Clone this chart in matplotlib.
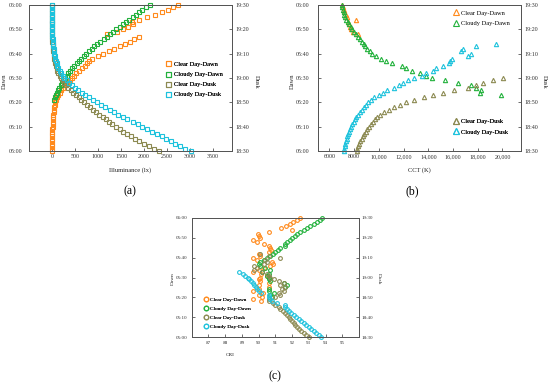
import matplotlib
matplotlib.use('Agg')
import matplotlib.pyplot as plt
from matplotlib.lines import Line2D
from matplotlib.ticker import FuncFormatter

plt.rcParams['font.family'] = ['Liberation Serif', 'DejaVu Serif']

# ---------------- shared categories ----------------
tick_minutes = [0, 10, 20, 30, 40, 50, 60]
dawn_tick_labels = ['05:00', '05:10', '05:20', '05:30', '05:40', '05:50', '06:00']
dusk_tick_labels = ['18:30', '18:40', '18:50', '19:00', '19:10', '19:20', '19:30']
series_names = ['Clear Day-Dawn', 'Cloudy Day-Dawn', 'Clear Day-Dusk', 'Cloudy Day-Dusk']
colors = ['#FF8A1C', '#22B13C', '#8C8A52', '#1DC2DC']

# ---------------- (a) Illuminance (lx), one value per minute ----------------
lux_clear_dawn_start = 0
lux_clear_dawn = [0, 2, 3, 4, 5, 6, 7, 9, 11, 13,
                  15, 18, 21, 25, 29, 34, 40, 47, 55, 65,
                  76, 90, 110, 135, 165, 200, 240, 285, 335, 385,
                  430, 480, 530, 590, 650, 710, 760, 815, 880, 990,
                  1100, 1230, 1350, 1470, 1590, 1690, 1790, 1890, 1190, 1420,
                  1540, 1660, 1750, 1740, 1900, 2060, 2240, 2380, 2510, 2630, 2730]
lux_cloudy_dawn_start = 21
lux_cloudy_dawn = [55, 70, 90, 110, 135, 160, 190, 220, 250, 285,
                   320, 360, 400, 445, 490, 540, 590, 640, 690, 745,
                   800, 860, 920, 985, 1050, 1120, 1190, 1260, 1330, 1400,
                   1470, 1540, 1610, 1680, 1750, 1820, 1890, 1960, 2040, 2130]
lux_clear_dusk_start = 0
lux_clear_dusk = [2320, 2210, 2100, 2000, 1900, 1810, 1720, 1630, 1550, 1470,
                  1390, 1310, 1240, 1170, 1100, 1030, 960, 895, 830, 765,
                  700, 640, 580, 520, 460, 405, 355, 310, 270, 230,
                  195, 165, 140, 118, 100, 85, 72, 60, 50, 42,
                  35, 29, 24, 20, 16, 13, 11, 9, 7, 6,
                  5, 4, 3, 3, 2, 2, 1, 1, 1, 0, 0]
lux_cloudy_dusk_start = 0
lux_cloudy_dusk = [3020, 2890, 2785, 2680, 2580, 2480, 2390, 2290, 2180, 2070,
                   1960, 1860, 1750, 1640, 1540, 1430, 1340, 1250, 1150, 1070,
                   980, 900, 810, 720, 645, 575, 505, 440, 380, 320,
                   270, 230, 195, 165, 140, 118, 100, 85, 72, 60,
                   50, 42, 35, 29, 24, 20, 16, 13, 11, 9,
                   7, 6, 5, 4, 3, 3, 2, 2, 1, 1, 1]
lux_ticks = [0, 500, 1000, 1500, 2000, 2500, 3000, 3500]

# ---------------- (b) CCT (K) ----------------
cct_clear_dawn_start = 48
cct_clear_dawn = [8340, 7940, 7760, 7670, 7560, 7480, 8130, 7400, 7310, 7220, 7140, 7070, 7000]
cct_cloudy_dawn_start = 23
cct_cloudy_dawn = [19900, 18150, 18230, 17890, 17430, 16400, 15390, 14300, 13850, 13310,
                   12650, 12190, 11840, 11100, 10600, 10150, 9750, 9450, 9250, 9050,
                   8900, 8760, 8620, 8480, 8320, 8150, 8000, 7860, 7720, 7600,
                   7480, 7380, 7280, 7200, 7150, 7100, 7050, 7000]
cct_clear_dusk_start = 0
cct_clear_dusk = [8210, 8270, 8340, 8420, 8510, 8600, 8700, 8820, 8950, 9080,
                  9220, 9370, 9530, 9700, 9880, 10100, 10400, 10800, 11250, 11700,
                  12200, 12830, 13640, 14390, 15190, 16060, 17210, 17890, 18420, 19230, 20030]
cct_cloudy_dusk_start = 0
cct_cloudy_dusk = [7180, 7220, 7260, 7300, 7350, 7400, 7460, 7530, 7600, 7680,
                   7760, 7850, 7950, 8060, 8180, 8310, 8450, 8600, 8770, 8950,
                   9150, 9350, 9600, 10000, 10300, 10650, 11250, 11650, 11970, 12370,
                   12850, 13450, 13850, 14340, 14600, 15190, 15650, 15750, 15880, 17210,
                   17480, 16670, 16780, 17890, 19440]
cct_ticks = [6000, 8000, 10000, 12000, 14000, 16000, 18000, 20000]

# ---------------- (c) CRI ----------------
cri_clear_dawn_start = 18
cri_clear_dawn = [90.15, 89.65, 90.2, 90.05, 90.25, 89.65, 90.0, 90.6, 90.05, 90.6,
                  90.1, 90.0, 90.1, 90.5, 90.15, 89.65, 90.0, 90.35, 90.7, 90.85,
                  90.8, 89.9, 89.65, 90.1, 90.0, 90.65, 90.75, 90.7, 90.65, 90.3,
                  89.9, 89.65, 90.1, 90.0, 89.95, 90.6, 92.0, 91.35, 91.65, 91.85,
                  92.05, 92.3, 92.45]
cri_cloudy_dawn_start = 20
cri_cloudy_dawn = [90.8, 90.7, 90.9, 90.6, 90.65, 91.6, 91.7, 91.5, 90.7, 90.6,
                   90.65, 90.5, 90.6, 90.2, 90.7, 90.4, 90.1, 90.0, 90.1, 90.3,
                   90.5, 90.7, 90.85, 91.0, 91.15, 91.25, 91.55, 91.6, 91.7, 91.85,
                   92.0, 92.15, 92.3, 92.5, 92.7, 92.9, 93.1, 93.3, 93.5, 93.65, 93.8]
cri_clear_dusk_start = 0
cri_clear_dusk = [93.0, 92.85, 92.7, 92.55, 92.4, 92.3, 92.2, 92.1, 92.0, 91.9,
                  91.8, 91.7, 91.55, 91.45, 91.3, 91.2, 91.0, 90.85, 90.65, 90.6,
                  91.0, 91.3, 91.2, 91.5, 91.4, 91.6, 91.3, 91.5, 91.2, 90.9,
                  90.7, 90.6, 90.5, 90.2, 89.7, 89.9, 89.7, 90.3, 90.5, 90.4,
                  91.3, 90.6, 90.1]
cri_cloudy_dusk_start = 0
cri_cloudy_dusk = [93.75, 93.6, 93.45, 93.3, 93.15, 93.0, 92.85, 92.7, 92.55, 92.4,
                   92.25, 92.1, 91.95, 91.8, 91.7, 91.6, 91.55, 91.1, 90.8, 90.7,
                   90.65, 90.6, 90.15, 90.0, 89.9, 89.85, 89.75, 89.65, 89.55, 89.45,
                   89.35, 89.2, 89.05, 88.85]
cri_ticks = [87, 88, 89, 90, 91, 92, 93, 94, 95]

SPINE = '#555555'


def minutes(start, vals):
    return list(range(start, start + len(vals)))


def make_panel(fig, rect, xlim, xticks, xfmt, xlabel, xlabel_pos, series, marker, ms,
               tick_fs, lab_fs, lpad, rpad, ylab_x, legends):
    ax = fig.add_axes(rect)
    tw = ax.twinx()
    for i, (start, vals) in enumerate(series):
        target = ax if i < 2 else tw
        target.plot(vals, minutes(start, vals), ls='none', marker=marker, ms=ms,
                    mfc='none', mec=colors[i], mew=0.8, clip_on=False)
    for a in (ax, tw):
        a.set_ylim(0, 60)
        a.set_xlim(*xlim)
        for s in a.spines.values():
            s.set_color(SPINE)
            s.set_linewidth(0.7)
    ax.set_xticks(xticks)
    ax.xaxis.set_major_formatter(FuncFormatter(xfmt))
    ax.set_yticks(tick_minutes)
    ax.set_yticklabels(dawn_tick_labels)
    tw.set_yticks(tick_minutes)
    tw.set_yticklabels(dusk_tick_labels)
    ax.tick_params(axis='both', direction='in', length=2.5, width=0.6, color=SPINE,
                   labelsize=tick_fs, labelcolor='#333333')
    ax.tick_params(axis='y', pad=lpad)
    ax.tick_params(axis='x', pad=2.5)
    tw.tick_params(axis='y', direction='in', length=2.5, width=0.6, color=SPINE,
                   labelsize=tick_fs, labelcolor='#333333', pad=rpad)
    ax.text(ylab_x[0], ylab_x[2], 'Dawn', transform=ax.transAxes, rotation=90,
            ha='center', va='center', fontsize=lab_fs, color='#222222')
    tw.text(ylab_x[1], ylab_x[2], 'Dusk', transform=ax.transAxes, rotation=270,
            ha='center', va='center', fontsize=lab_fs, color='#222222')
    ax.text(xlabel_pos[0], xlabel_pos[1], xlabel, transform=ax.transAxes,
            ha='center', va='center', fontsize=lab_fs, color='#222222')
    for idx, anchor, fs, sp in legends:
        hs = [Line2D([], [], ls='none', marker=marker, ms=ms + 0.6, mfc='none',
                     mec=colors[i], mew=0.8) for i in idx]
        leg = tw.legend(hs, [series_names[i] for i in idx], loc='upper left',
                        bbox_to_anchor=anchor, frameon=False, fontsize=fs,
                        handlelength=0.8, handletextpad=0.4, labelspacing=sp,
                        borderaxespad=0, borderpad=0)
        tw.add_artist(leg)
    return ax, tw


fig = plt.figure(figsize=(5.5, 3.82), dpi=100)

plain = lambda v, p: f'{int(v)}'
comma = lambda v, p: f'{int(v):,}' if v >= 10000 else f'{int(v)}'

make_panel(fig, [0.0533, 0.6047, 0.3679, 0.3822], (-490, 3900), lux_ticks, plain,
           'Illuminance (lx)', (0.5, -0.13),
           [(lux_clear_dawn_start, lux_clear_dawn), (lux_cloudy_dawn_start, lux_cloudy_dawn),
            (lux_clear_dusk_start, lux_clear_dusk), (lux_cloudy_dusk_start, lux_cloudy_dusk)],
           's', 3.0, 4.3, 4.7, 5.0, 2.5, (-0.125, 1.123, 0.475),
           [([0, 1, 2, 3], (0.675, 0.615), 4.6, 0.75)])

make_panel(fig, [0.5787, 0.6047, 0.3686, 0.3822], (5100, 21500), cct_ticks, comma,
           'CCT (K)', (0.5, -0.13),
           [(cct_clear_dawn_start, cct_clear_dawn), (cct_cloudy_dawn_start, cct_cloudy_dawn),
            (cct_clear_dusk_start, cct_clear_dusk), (cct_cloudy_dusk_start, cct_cloudy_dusk)],
           '^', 3.1, 4.3, 4.7, 6.5, 2.5, (-0.128, 1.113, 0.475),
           [([0, 1], (0.665, 0.965), 4.6, 0.75), ([2, 3], (0.665, 0.22), 4.6, 0.75)])

make_panel(fig, [0.3485, 0.1170, 0.3042, 0.3131], (86, 96), cri_ticks, plain,
           'CRI', (0.23, -0.148),
           [(cri_clear_dawn_start, cri_clear_dawn), (cri_cloudy_dawn_start, cri_cloudy_dawn),
            (cri_clear_dusk_start, cri_clear_dusk), (cri_cloudy_dusk_start, cri_cloudy_dusk)],
           'o', 2.7, 3.6, 3.9, 3.3, 2.0, (-0.114, 1.121, 0.49),
           [([0, 1, 2, 3], (0.07, 0.335), 3.9, 0.75)])

fig.text(130 / 550, 1 - 191 / 382, '(a)', ha='center', va='center', fontsize=8.5)
fig.text(412 / 550, 1 - 191 / 382, '(b)', ha='center', va='center', fontsize=8.5)
fig.text(275 / 550, 1 - 376 / 382, '(c)', ha='center', va='center', fontsize=8.5)

fig.savefig('out.png', dpi=100)
